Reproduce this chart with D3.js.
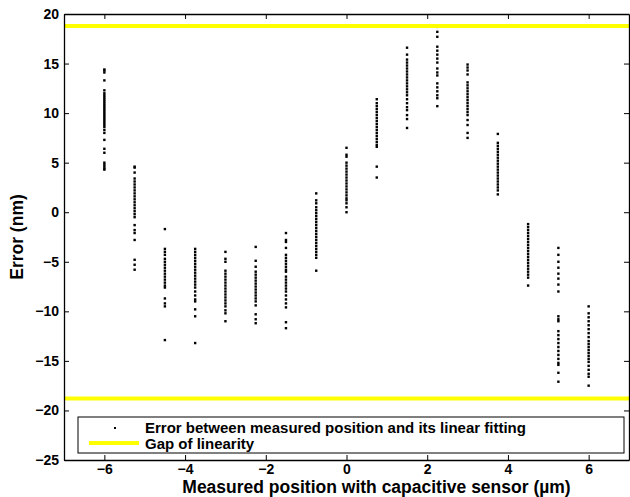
<!DOCTYPE html>
<html>
<head>
<meta charset="utf-8">
<script src="https://cdn.jsdelivr.net/npm/d3@7"></script>
<style>
  body { margin: 0; background: #fff; }
  svg text { font-family: "Liberation Sans", Arial, sans-serif; font-weight: bold; }
</style>
</head>
<body>
<div id="chart"></div>
<script>
// measurement positions (um) and the error samples read at each one (nm)
const positions = [-6, -5.25, -4.5, -3.75, -3, -2.25, -1.5, -0.75, 0, 0.75, 1.5, 2.25, 3, 3.75, 4.5, 5.25, 6];
const errors = [
  [14.4, 14.3, 14.1, 13.3, 12.3, 12.0, 11.8, 11.6, 11.4, 11.2, 11.0, 10.8, 10.6, 10.4, 10.2, 10.0, 9.8, 9.6, 9.4, 9.2, 9.0, 8.8, 8.6, 8.3, 8.0, 7.3, 6.4, 6.0, 5.0, 4.8, 4.6, 4.4, 4.3],
  [4.6, 4.5, 4.0, 3.4, 3.1, 2.8, 2.5, 2.2, 1.9, 1.6, 1.3, 1.0, 0.7, 0.4, 0.1, -0.2, -0.5, -1.3, -1.8, -2.1, -2.8, -4.8, -5.3, -5.8],
  [-1.7, -3.7, -4.0, -4.3, -4.7, -5.0, -5.3, -5.6, -5.9, -6.2, -6.5, -6.8, -7.1, -7.4, -7.6, -8.7, -9.2, -9.5, -12.9],
  [-3.7, -4.0, -4.3, -4.6, -4.9, -5.2, -5.5, -5.8, -6.1, -6.4, -6.7, -7.0, -7.3, -7.6, -8.0, -8.4, -8.8, -9.0, -9.8, -10.5, -13.2],
  [-4.0, -4.7, -5.0, -5.9, -6.2, -6.5, -6.8, -7.1, -7.4, -7.7, -8.0, -8.3, -8.6, -8.9, -9.2, -9.5, -9.9, -10.2, -11.0],
  [-3.5, -4.9, -5.5, -6.0, -6.3, -6.6, -6.9, -7.2, -7.5, -7.8, -8.1, -8.4, -8.7, -9.0, -9.4, -10.3, -10.8, -11.2],
  [-2.1, -2.8, -3.0, -3.6, -4.3, -4.6, -4.9, -5.2, -5.5, -5.8, -6.0, -6.5, -6.8, -7.1, -7.4, -7.7, -8.0, -8.4, -8.8, -9.2, -9.6, -11.1, -11.7],
  [1.9, 1.2, 0.9, 0.5, 0.2, -0.1, -0.4, -0.7, -1.0, -1.3, -1.6, -1.9, -2.2, -2.5, -2.8, -3.1, -3.4, -3.7, -4.0, -4.3, -4.6, -5.9],
  [6.5, 5.8, 5.6, 5.0, 4.7, 4.4, 4.1, 3.8, 3.5, 3.2, 2.9, 2.6, 2.3, 2.0, 1.7, 1.4, 1.2, 0.9, 0.5, 0.0],
  [11.4, 11.0, 10.7, 10.4, 10.1, 9.8, 9.5, 9.2, 8.9, 8.6, 8.3, 8.0, 7.7, 7.4, 7.1, 6.8, 6.6, 4.6, 3.5],
  [16.6, 15.9, 15.4, 15.1, 14.8, 14.5, 14.2, 13.9, 13.6, 13.3, 13.0, 12.7, 12.4, 12.1, 11.8, 11.4, 11.0, 10.6, 10.3, 9.8, 9.4, 8.5],
  [18.7, 18.2, 17.7, 16.7, 16.3, 15.9, 15.5, 15.1, 14.5, 14.1, 13.8, 13.0, 12.6, 12.2, 11.8, 11.5, 10.7],
  [14.9, 14.6, 14.3, 13.9, 13.1, 12.8, 12.5, 12.2, 11.9, 11.6, 11.3, 11.0, 10.7, 10.4, 10.1, 9.8, 9.3, 8.8, 8.0, 7.5],
  [7.9, 7.0, 6.7, 6.4, 6.1, 5.8, 5.5, 5.2, 4.9, 4.6, 4.3, 4.0, 3.7, 3.4, 3.1, 2.8, 2.5, 2.2, 1.8],
  [-1.2, -1.5, -1.8, -2.1, -2.4, -2.7, -3.0, -3.3, -3.6, -3.9, -4.2, -4.5, -4.8, -5.1, -5.4, -5.7, -6.0, -6.3, -6.6, -7.4],
  [-3.6, -4.3, -5.0, -5.6, -6.2, -6.7, -7.3, -8.0, -10.5, -10.8, -11.0, -12.0, -12.4, -12.8, -13.2, -13.6, -14.0, -14.4, -14.8, -15.2, -15.4, -16.2, -17.1],
  [-9.5, -10.2, -10.6, -11.0, -11.4, -11.8, -12.2, -12.6, -13.0, -13.3, -13.6, -13.9, -14.2, -14.5, -14.8, -15.1, -15.5, -15.9, -16.3, -16.6, -17.5]
];
const gapLimits = [18.8, -18.8];
const xTicks = [-6, -4, -2, 0, 2, 4, 6];
const yTicks = [-25, -20, -15, -10, -5, 0, 5, 10, 15, 20];
const legendLabels = ['Error between measured position and its linear fitting', 'Gap of linearity'];

const width = 630, height = 497;
const margin = { top: 14, right: 1, bottom: 37, left: 64 };
const innerW = width - margin.left - margin.right;
const innerH = height - margin.top - margin.bottom;

const svg = d3.select('#chart').append('svg')
  .attr('width', width)
  .attr('height', height);

const g = svg.append('g')
  .attr('transform', `translate(${margin.left},${margin.top})`);

const x = d3.scaleLinear().domain([-7, 7]).range([0, innerW]);
const y = d3.scaleLinear().domain([-25, 20]).range([innerH, 0]);

const fmt = d => d < 0 ? '\u2212' + Math.abs(d) : String(d);

// points, flattened from the per-position arrays
const points = [];
positions.forEach((p, i) => errors[i].forEach(e => points.push({ x: p, y: e })));

g.selectAll('rect.pt')
  .data(points)
  .enter()
  .append('rect')
  .attr('class', 'pt')
  .attr('x', d => x(d.x) - 1.2)
  .attr('y', d => y(d.y) - 1.2)
  .attr('width', 2.4)
  .attr('height', 2.4)
  .attr('fill', '#000');

// gap of linearity lines
g.selectAll('line.gap')
  .data(gapLimits)
  .enter()
  .append('line')
  .attr('class', 'gap')
  .attr('x1', 0)
  .attr('x2', innerW)
  .attr('y1', d => y(d))
  .attr('y2', d => y(d))
  .attr('stroke', '#ffff00')
  .attr('stroke-width', 4);

// axes, MATLAB style inward ticks on all four sides
const styleAxis = sel => {
  sel.select('.domain').attr('stroke', '#000').attr('stroke-width', 1.3);
  sel.selectAll('.tick line').attr('stroke', '#000').attr('stroke-width', 1);
  sel.selectAll('text').attr('fill', '#000').style('font-size', '14px');
};

g.append('g')
  .attr('transform', `translate(0,${innerH})`)
  .call(d3.axisBottom(x).tickValues(xTicks).tickFormat(fmt).tickSizeInner(-5).tickSizeOuter(0).tickPadding(4))
  .call(styleAxis);

g.append('g')
  .call(d3.axisTop(x).tickValues(xTicks).tickFormat('').tickSizeInner(-5).tickSizeOuter(0))
  .call(styleAxis);

g.append('g')
  .call(d3.axisLeft(y).tickValues(yTicks).tickFormat(fmt).tickSizeInner(-5).tickSizeOuter(0).tickPadding(5))
  .call(styleAxis);

g.append('g')
  .attr('transform', `translate(${innerW},0)`)
  .call(d3.axisRight(y).tickValues(yTicks).tickFormat('').tickSizeInner(-5).tickSizeOuter(0))
  .call(styleAxis);

// axis titles
svg.append('text')
  .attr('x', margin.left + innerW / 2 + 30)
  .attr('y', 493)
  .attr('text-anchor', 'middle')
  .style('font-size', '17.5px')
  .text('Measured position with capacitive sensor (\u00b5m)');

svg.append('text')
  .attr('transform', `translate(23,${margin.top + innerH / 2}) rotate(-90)`)
  .attr('text-anchor', 'middle')
  .style('font-size', '17.5px')
  .text('Error (nm)');

// legend
const legend = svg.append('g').attr('transform', 'translate(78,417)');
legend.append('rect')
  .attr('width', 546)
  .attr('height', 36)
  .attr('fill', '#fff')
  .attr('stroke', '#000')
  .attr('stroke-width', 1);

legend.append('rect')
  .attr('x', 36).attr('y', 10)
  .attr('width', 2).attr('height', 2)
  .attr('fill', '#000');

legend.append('line')
  .attr('x1', 11).attr('x2', 61)
  .attr('y1', 26).attr('y2', 26)
  .attr('stroke', '#ffff00')
  .attr('stroke-width', 4);

legend.selectAll('text')
  .data(legendLabels)
  .enter()
  .append('text')
  .attr('x', 67)
  .attr('y', (d, i) => 15.5 + i * 16)
  .style('font-size', '15px')
  .text(d => d);
</script>
</body>
</html>
